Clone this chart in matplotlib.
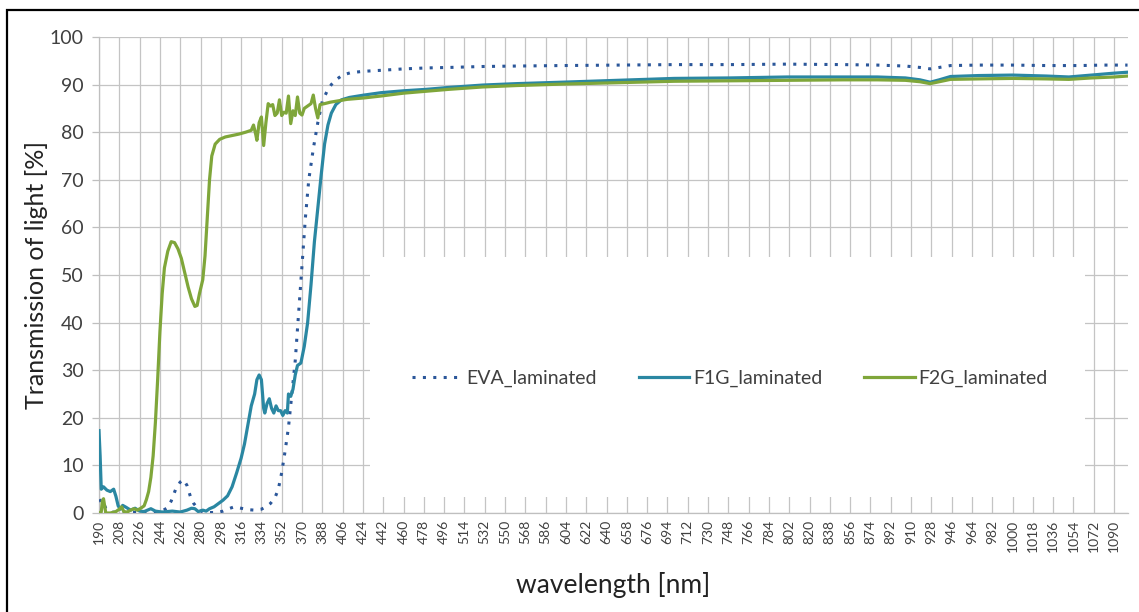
import matplotlib
matplotlib.use("Agg")
import matplotlib.pyplot as plt
from matplotlib.patches import Rectangle

plt.rcParams['font.family'] = ['Lato', 'DejaVu Sans']

# wavelength [nm] / transmission [%]
eva_nm = [190, 193, 196, 200, 210, 230, 245, 250, 254, 258, 262, 265, 268, 271, 274, 278, 283,
          295, 300, 305, 310, 316, 322, 328, 334, 338, 342, 346, 349, 352, 355, 358, 361, 364,
          367, 370, 373, 376, 380, 384, 388, 392, 396, 400, 406, 413, 425, 440, 460, 480, 500,
          530, 560, 600, 650, 700, 750, 800, 850, 880, 905, 918, 927, 935, 945, 970, 1000,
          1030, 1060, 1080, 1102]
eva_t = [2.5, 2.8, 1.0, 0.2, 0.1, 0.1, 0.3, 1.0, 2.5, 5.0, 6.5, 7.0, 5.8, 3.5, 2.0, 0.8, 0.1,
         0.1, 0.4, 0.9, 1.3, 1.0, 0.7, 0.6, 0.8, 1.3, 2.0, 3.2, 5.0, 8.5, 13.0, 18.0, 25.0, 32.0,
         42.0, 52.0, 62.0, 70.0, 76.5, 82.0, 86.5, 88.5, 90.0, 91.0, 92.0, 92.5, 92.8, 93.0,
         93.3, 93.5, 93.6, 93.8, 93.9, 94.0, 94.1, 94.2, 94.2, 94.3, 94.2, 94.1, 93.9, 93.6,
         93.3, 93.6, 94.0, 94.1, 94.1, 94.0, 94.0, 94.1, 94.1]

f1g_nm = [190, 191, 192, 194, 197, 200, 203, 205, 207, 209, 211, 214, 218, 222, 226, 230, 236,
          240, 246, 255, 262, 268, 272, 275, 278, 282, 285, 288, 292, 296, 300, 304, 308, 312,
          316, 319, 322, 325, 328, 330, 332, 334, 336, 337, 339, 341, 343, 345, 347, 349, 351,
          353, 355, 357, 358, 360, 362, 364, 366, 369, 372, 375, 378, 381, 384, 387, 390, 393,
          396, 400, 405, 412, 425, 440, 460, 480, 500, 530, 560, 600, 650, 700, 750, 800, 850,
          880, 905, 918, 927, 935, 945, 970, 1000, 1030, 1050, 1070, 1090, 1102]
f1g_t = [17.3, 12.0, 5.0, 5.5, 4.8, 4.5, 5.0, 3.5, 1.5, 0.8, 1.6, 1.2, 0.6, 1.0, 0.4, 0.3, 0.9,
         0.4, 0.2, 0.4, 0.2, 0.6, 1.0, 0.9, 0.3, 0.6, 0.4, 0.9, 1.3, 2.0, 2.7, 3.6, 5.5, 8.4,
         11.5, 14.5, 18.5, 22.5, 25.0, 28.0, 29.0, 28.0, 22.0, 21.0, 23.0, 24.0, 22.0, 21.0,
         22.5, 21.5, 21.5, 20.5, 21.5, 21.0, 25.0, 24.5, 26.0, 29.0, 31.0, 31.5, 35.0, 40.0,
         48.0, 57.0, 64.0, 71.0, 77.5, 81.5, 84.0, 85.8, 86.8, 87.3, 87.8, 88.3, 88.7, 89.0,
         89.4, 89.9, 90.2, 90.5, 90.9, 91.3, 91.4, 91.6, 91.6, 91.6, 91.4, 91.0, 90.5, 91.0,
         91.7, 91.9, 92.0, 91.8, 91.6, 92.0, 92.4, 92.6]

f2g_nm = [190, 192, 193, 194, 195, 196, 200, 205, 208, 210, 212, 215, 218, 221, 224, 227, 230,
          232, 234, 236, 238, 240, 242, 244, 246, 248, 251, 254, 257, 260, 263, 266, 269, 272,
          275, 277, 279, 282, 284, 286, 288, 290, 293, 297, 302, 308, 314, 320, 325, 327, 329,
          330, 332, 334, 336, 338, 340, 342, 344, 346, 348, 350, 352, 354, 356, 358, 360, 362,
          364, 366, 368, 370, 372, 375, 378, 380, 382, 384, 386, 390, 395, 400, 410, 425, 440,
          460, 480, 500, 530, 560, 600, 650, 700, 750, 800, 850, 880, 905, 918, 927, 935, 945,
          970, 1000, 1030, 1050, 1070, 1090, 1102]
f2g_t = [0.0, 0.2, 2.5, 3.0, 1.5, 0.0, 0.0, 0.3, 0.8, 1.3, 0.3, 0.2, 0.6, 0.9, 0.6, 1.0, 1.5,
         2.8, 4.5, 7.5, 12.0, 19.0, 28.0, 38.0, 46.0, 51.5, 55.0, 57.0, 56.8, 55.5, 53.5, 50.5,
         47.5, 45.0, 43.4, 43.6, 46.0, 49.0, 54.0, 62.0, 70.0, 75.0, 77.5, 78.5, 79.0, 79.3,
         79.6, 80.0, 80.4, 81.5, 79.5, 78.3, 82.0, 83.2, 77.2, 82.0, 86.0, 85.5, 85.8, 83.5,
         84.0, 86.8, 83.5, 84.2, 84.0, 87.6, 81.8, 84.5, 83.5, 87.4, 84.0, 83.6, 85.0, 85.5,
         86.0, 87.8, 85.0, 83.0, 85.8, 86.0, 86.3, 86.5, 86.9, 87.2, 87.6, 88.2, 88.6, 89.0,
         89.5, 89.8, 90.1, 90.4, 90.7, 90.8, 90.9, 91.0, 91.0, 90.9, 90.6, 90.2, 90.6, 91.1,
         91.2, 91.3, 91.2, 91.1, 91.4, 91.6, 91.8]

x_ticks = list(range(190, 1091, 18))
y_ticks = list(range(0, 101, 10))

fig = plt.figure(figsize=(11.39, 6.12), dpi=100)
ax = fig.add_axes([99/1139, 1 - 513/612, 1029/1139, 476/612])

ax.plot(eva_nm, eva_t, color='#2b579a', lw=2.2, linestyle=(0, (1, 2.4)), label='EVA_laminated', zorder=3)
ax.plot(f1g_nm, f1g_t, color='#2a87a2', lw=2.3, label='F1G_laminated', zorder=3)
ax.plot(f2g_nm, f2g_t, color='#7fa63a', lw=2.3, label='F2G_laminated', zorder=3)

ax.set_xlim(190, 1102.4)
ax.set_ylim(0, 100)
ax.set_xticks(x_ticks)
ax.set_yticks(y_ticks)
ax.set_xticklabels([str(v) for v in x_ticks], rotation=90, fontsize=10, color='#404040')
ax.set_yticklabels([str(v) for v in y_ticks], fontsize=14, color='#404040')
ax.tick_params(axis='x', length=0, pad=5)
ax.tick_params(axis='y', length=5, color='#bfbfbf', width=0.9, pad=6)
ax.grid(True, color='#c4c4c4', lw=0.9)
ax.set_axisbelow(True)
for s in ['top', 'right']:
    ax.spines[s].set_visible(False)
for s in ['left', 'bottom']:
    ax.spines[s].set_color('#bfbfbf')
    ax.spines[s].set_linewidth(0.9)

# white legend area over the grid
ax.add_patch(Rectangle((271/1029, 16/476), 715/1029, 240/476, transform=ax.transAxes,
                       facecolor='white', edgecolor='none', zorder=1))
ax.legend(loc='center', bbox_to_anchor=(0.613, 0.2836), ncol=3, frameon=False,
          fontsize=14, handlelength=2.6, handletextpad=0.2, columnspacing=2.15,
          labelcolor='#404040')

ax.set_ylabel('Transmission of light [%]', fontsize=18, color='#222222', labelpad=1)
ax.set_xlabel('wavelength [nm]', fontsize=19, color='#222222', labelpad=14)

fig.add_artist(Rectangle((7/1139, -0.05), 1.1, 1 - 10/612 + 0.05, transform=fig.transFigure,
                         facecolor='none', edgecolor='black', lw=1.6))

fig.savefig('out.png', dpi=100)
